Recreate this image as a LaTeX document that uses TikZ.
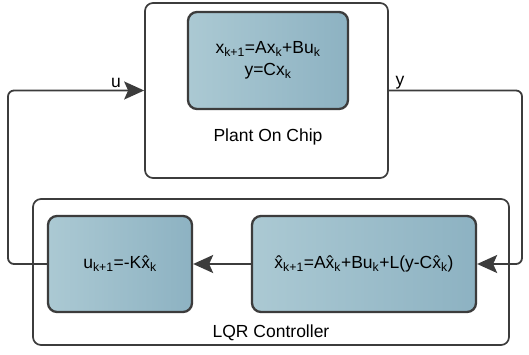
\documentclass[tikz,border=0pt]{standalone}
\usepackage{fontspec}
\setmainfont{Liberation Sans}
\usetikzlibrary{arrows.meta,positioning}
\definecolor{fillA}{HTML}{ABC9D3}
\definecolor{fillB}{HTML}{8DB2C2}
\definecolor{linegray}{HTML}{3C3C3C}
\tikzset{
  frame/.style  = {draw=linegray, line width=1.7pt, fill=white, rounded corners=8pt,
                   inner sep=0pt},
  block/.style  = {draw=linegray, line width=2.3pt, rounded corners=9pt, inner sep=0pt,
                   left color=fillA, right color=fillB, align=center},
  wire/.style   = {draw=linegray, line width=1.8pt, rounded corners=6pt},
  sig/.style    = {-{Stealth[length=20pt,width=18pt,inset=4pt]}},
  txt/.style    = {font=\fontsize{17.5}{22}\selectfont, text=black},
}
\begin{document}
\begin{tikzpicture}[x=1pt,y=1pt,txt]
  \useasboundingbox (0,0) rectangle (529,354);
  % plant
  \node[frame, minimum width=243pt, minimum height=175pt] (plant) at (266.5,263.5) {};
  \node[block, minimum width=160pt, minimum height=97pt] (model) at (268,293.5)
    {x\textsubscript{k+1}=Ax\textsubscript{k}+Bu\textsubscript{k}\\y=Cx\textsubscript{k}};
  \node (plantlab) at (268,217) {Plant On Chip};
  % controller
  \node[frame, minimum width=476pt, minimum height=146pt] (lqr) at (271,82) {};
  \node[block, minimum width=144pt, minimum height=96pt] (gain) at (120,90)
    {u\textsubscript{k+1}=-K\^x\textsubscript{k}};
  \node[block, minimum width=224pt, minimum height=96pt] (observer) at (364,90)
    {\^x\textsubscript{k+1}=A\^x\textsubscript{k}+Bu\textsubscript{k}+L(y-C\^x\textsubscript{k})};
  \node (lqrlab) at (271,21) {LQR Controller};
  % loop
  \coordinate (lx) at (8,0);
  \coordinate (rx) at (522,0);
  \draw[wire,sig] (gain.west) -- (gain.west -| lx) |- (plant.west);
  \draw[wire,sig] (plant.east) -- (plant.east -| rx) |- (observer.east);
  \draw[wire,sig] (observer.west) -- (gain.east);
  \node (ulab) at (116,271) {u};
  \node (ylab) at (400,271) {y};
\end{tikzpicture}
\end{document}
